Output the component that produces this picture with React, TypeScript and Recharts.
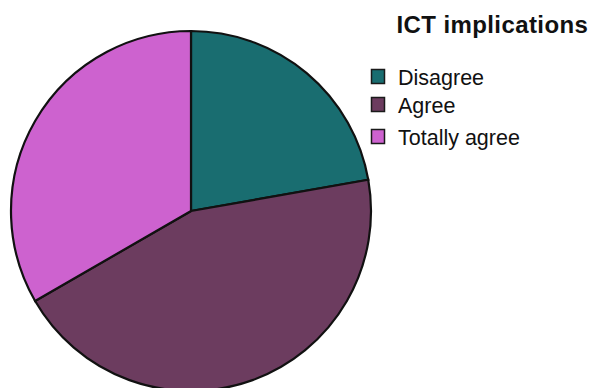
import React from "react";
import { PieChart, Pie, Cell, Legend } from "recharts";

const categories = ["Disagree", "Agree", "Totally agree"];
const values = [2, 4, 3];
const colors = ["#196d70", "#6c3c5f", "#cd62cf"];
const title = "ICT implications";

const data = categories.map((name, i) => ({ name, value: values[i] }));

const rowY = [77, 105, 137];

const renderLegend = () => (
  <svg width={230} height={160} style={{ overflow: "visible" }}>
    <text
      x={25.5}
      y={33}
      fontFamily="'Liberation Sans', Arial, sans-serif"
      fontWeight="bold"
      fontSize={24}
      letterSpacing={0.4}
      fill="#111"
    >
      {title}
    </text>
    {categories.map((c, i) => (
      <g key={c}>
        <rect
          x={0.5}
          y={rowY[i] - 7.5}
          width={13}
          height={14}
          fill={colors[i]}
          stroke="#1a1a1a"
          strokeWidth={1.5}
        />
        <text
          x={27}
          y={rowY[i] + 7.5}
          fontFamily="'Liberation Sans', Arial, sans-serif"
          fontSize={21.5}
          fill="#111"
        >
          {c}
        </text>
      </g>
    ))}
  </svg>
);

export default function App() {
  return (
    <div style={{ position: "absolute", left: 0, top: 0, width: 593, height: 388, background: "#fff" }}>
      <PieChart width={593} height={388} margin={{ top: 0, right: 0, bottom: 0, left: 0 }}>
        <Pie
          data={data}
          dataKey="value"
          nameKey="name"
          cx={191}
          cy={211}
          outerRadius={180}
          startAngle={90}
          endAngle={-270}
          stroke="#111"
          strokeWidth={2.2}
          isAnimationActive={false}
          label={false}
          labelLine={false}
        >
          {data.map((d, i) => (
            <Cell key={d.name} fill={colors[i]} />
          ))}
        </Pie>
        <Legend
          content={renderLegend}
          wrapperStyle={{ position: "absolute", left: 371, top: 0, width: 230, height: 160 }}
        />
      </PieChart>
    </div>
  );
}
